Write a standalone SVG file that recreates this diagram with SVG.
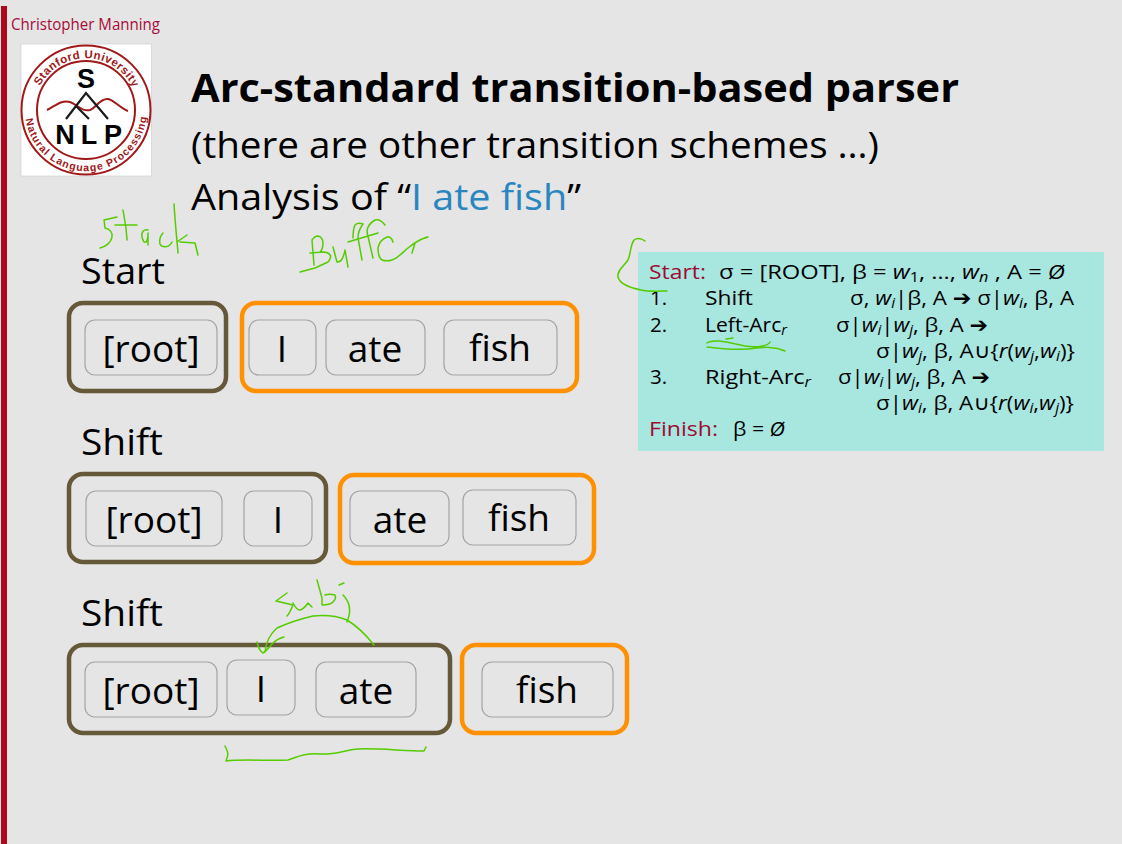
<svg xmlns="http://www.w3.org/2000/svg" width="1122" height="844" viewBox="0 0 1122 844">
<style>
text{font-family:"Open Sans","DejaVu Sans",sans-serif;fill:#000}
.h{font-size:37px}
.l{font-size:37px}
.w{font-size:37px;text-anchor:middle}
.stack{fill:none;stroke:#66593a;stroke-width:4.5}
.buf{fill:none;stroke:#ff9100;stroke-width:4.5}
.cell{fill:none;stroke:#a3a3a3;stroke-width:1.2}
.ink{fill:none;stroke:#55cc00;stroke-width:1.5;stroke-linecap:round;stroke-linejoin:round}
.r{font-size:20.5px}
.red{fill:#a00a30}
.i{font-style:italic}
.sub{font-size:14px}
.arr{font-family:"DejaVu Sans",sans-serif;font-weight:bold}
.logo{font-family:"Liberation Sans",sans-serif;font-weight:bold;fill:#a01818}
.nlp{font-family:"Liberation Sans",sans-serif;font-weight:bold;font-size:27px;text-anchor:middle}
</style>
<defs>
<path id="arcTop" d="M40 86A52 52 0 0 1 132 86"/>
<path id="arcBot" d="M25.500 118A61 61 0 0 0 146.500 118"/>
</defs>
<rect width="1122" height="844" fill="#e5e5e5"/>
<rect x="1" y="6" width="6" height="838" fill="#b0081c"/>
<text x="11" y="30" font-size="15.500" style="fill:#a80a38" textLength="149" lengthAdjust="spacingAndGlyphs">Christopher Manning</text>
<g id="logo">
<rect x="21" y="44" width="130.500" height="132" fill="#fff" stroke="#d0d0d0" stroke-width="0.700"/>
<circle cx="86" cy="110" r="64.500" fill="none" stroke="#a01818" stroke-width="2"/>
<circle cx="86" cy="110" r="49" fill="none" stroke="#a01818" stroke-width="2"/>
<text class="logo" style="font-size:11.500px;letter-spacing:.45px"><textPath href="#arcTop" startOffset="0">Stanford University</textPath></text>
<text class="logo" style="font-size:10.500px;letter-spacing:1.050px"><textPath href="#arcBot" startOffset="1">Natural Language Processing</textPath></text>
<path d="M47 110C58 104 62 100 70 102C78 105 82 112 90 110C96 108 100 98 108 99C114 100 120 108 128 111" fill="none" stroke="#a01818" stroke-width="2"/>
<path d="M66 119L86 93L108 119M76 106L89 119" fill="none" stroke="#1a1a1a" stroke-width="2.200"/>
<text class="nlp" x="86" y="88">S</text>
<text class="nlp" x="65" y="144">N</text>
<text class="nlp" x="89" y="144">L</text>
<text class="nlp" x="113" y="144">P</text>
</g>
<g id="title">
<text x="191" y="102" font-size="40" font-weight="700" textLength="768" lengthAdjust="spacingAndGlyphs">Arc-standard transition-based parser</text>
<text x="191" y="158" class="h" textLength="688" lengthAdjust="spacingAndGlyphs">(there are other transition schemes …)</text>
<text x="191" y="210" class="h" textLength="390" lengthAdjust="spacingAndGlyphs">Analysis of “<tspan style="fill:#2a86c0">I ate fish</tspan>”</text>
</g>
<g id="start-row">
<text x="81" y="284" class="l" textLength="84" lengthAdjust="spacingAndGlyphs">Start</text>
<rect class="stack" x="69" y="303" width="157" height="88" rx="14"/>
<rect class="cell" x="85" y="320" width="132" height="55" rx="10"/>
<text class="w" x="151" y="362">[root]</text>
<rect class="buf" x="242" y="303" width="335" height="88" rx="14"/>
<rect class="cell" x="249" y="320" width="67" height="55" rx="10"/>
<text class="w" x="282" y="362">I</text>
<rect class="cell" x="326" y="320" width="99" height="55" rx="10"/>
<text class="w" x="375" y="362">ate</text>
<rect class="cell" x="444" y="320" width="113" height="55" rx="10"/>
<text class="w" x="500" y="361">fish</text>
</g>
<g id="shift-row-1">
<text x="81" y="455" class="l" textLength="82" lengthAdjust="spacingAndGlyphs">Shift</text>
<rect class="stack" x="69" y="474" width="257" height="88" rx="14"/>
<rect class="cell" x="86" y="491" width="136" height="55" rx="10"/>
<text class="w" x="154" y="533">[root]</text>
<rect class="cell" x="244" y="491" width="68" height="55" rx="10"/>
<text class="w" x="278" y="533">I</text>
<rect class="buf" x="340" y="475" width="254" height="88" rx="14"/>
<rect class="cell" x="350" y="491" width="99" height="55" rx="10"/>
<text class="w" x="400" y="533">ate</text>
<rect class="cell" x="463" y="490" width="113" height="55" rx="10"/>
<text class="w" x="519" y="531">fish</text>
</g>
<g id="shift-row-2">
<text x="81" y="626" class="l" textLength="82" lengthAdjust="spacingAndGlyphs">Shift</text>
<rect class="stack" x="69" y="645" width="381" height="88" rx="14"/>
<rect class="cell" x="85" y="662" width="132" height="55" rx="10"/>
<text class="w" x="151" y="704">[root]</text>
<rect class="cell" x="227" y="660" width="68" height="55" rx="10"/>
<text class="w" x="261" y="702">I</text>
<rect class="cell" x="316" y="662" width="100" height="55" rx="10"/>
<text class="w" x="366" y="704">ate</text>
<rect class="buf" x="462" y="645" width="165" height="88" rx="14"/>
<rect class="cell" x="482" y="662" width="131" height="55" rx="10"/>
<text class="w" x="547" y="703">fish</text>
</g>
<g id="rules">
<rect x="638" y="252" width="466" height="199" fill="#a8e6e0"/>
<text x="649" y="279" class="r red" textLength="57" lengthAdjust="spacingAndGlyphs">Start:</text>
<text x="719" y="279" class="r" textLength="346" lengthAdjust="spacingAndGlyphs">σ = [ROOT], β = <tspan class="i">w</tspan><tspan class="sub" dy="3">1</tspan><tspan dy="-3">, …, </tspan><tspan class="i">w</tspan><tspan class="sub i" dy="3">n</tspan><tspan dy="-3"> , A = </tspan><tspan class="i">Ø</tspan></text>
<text x="650" y="305" class="r">1.</text>
<text x="705" y="305" class="r" textLength="48" lengthAdjust="spacingAndGlyphs">Shift</text>
<text x="850" y="305" class="r" textLength="224" lengthAdjust="spacingAndGlyphs">σ, <tspan class="i">w</tspan><tspan class="sub i" dy="3">i</tspan><tspan dy="-3">|β, A </tspan><tspan class="arr">➔</tspan> σ|<tspan class="i">w</tspan><tspan class="sub i" dy="3">i</tspan><tspan dy="-3">, β, A</tspan></text>
<text x="650" y="332" class="r">2.</text>
<text x="705" y="332" class="r" textLength="82" lengthAdjust="spacingAndGlyphs">Left-Arc<tspan class="sub i" dy="3">r</tspan></text>
<text x="836" y="332" class="r" textLength="152" lengthAdjust="spacingAndGlyphs">σ|<tspan class="i">w</tspan><tspan class="sub i" dy="3">i</tspan><tspan dy="-3">|</tspan><tspan class="i">w</tspan><tspan class="sub i" dy="3">j</tspan><tspan dy="-3">, β, A </tspan><tspan class="arr">➔</tspan></text>
<text x="876" y="358" class="r" textLength="199" lengthAdjust="spacingAndGlyphs">σ|<tspan class="i">w</tspan><tspan class="sub i" dy="3">j</tspan><tspan dy="-3">, β, A∪{</tspan><tspan class="i">r</tspan>(<tspan class="i">w</tspan><tspan class="sub i" dy="3">j</tspan><tspan dy="-3">,</tspan><tspan class="i">w</tspan><tspan class="sub i" dy="3">i</tspan><tspan dy="-3">)}</tspan></text>
<text x="650" y="384" class="r">3.</text>
<text x="705" y="384" class="r" textLength="106" lengthAdjust="spacingAndGlyphs">Right-Arc<tspan class="sub i" dy="3">r</tspan></text>
<text x="838" y="384" class="r" textLength="152" lengthAdjust="spacingAndGlyphs">σ|<tspan class="i">w</tspan><tspan class="sub i" dy="3">i</tspan><tspan dy="-3">|</tspan><tspan class="i">w</tspan><tspan class="sub i" dy="3">j</tspan><tspan dy="-3">, β, A </tspan><tspan class="arr">➔</tspan></text>
<text x="876" y="410" class="r" textLength="198" lengthAdjust="spacingAndGlyphs">σ|<tspan class="i">w</tspan><tspan class="sub i" dy="3">i</tspan><tspan dy="-3">, β, A∪{</tspan><tspan class="i">r</tspan>(<tspan class="i">w</tspan><tspan class="sub i" dy="3">i</tspan><tspan dy="-3">,</tspan><tspan class="i">w</tspan><tspan class="sub i" dy="3">j</tspan><tspan dy="-3">)}</tspan></text>
<text x="649" y="436" class="r red" textLength="69" lengthAdjust="spacingAndGlyphs">Finish:</text>
<text x="733" y="436" class="r" textLength="52" lengthAdjust="spacingAndGlyphs">β = <tspan class="i">Ø</tspan></text>
</g>
<g id="connectors">
<g class="ink">
<path d="M117 217L104 220L105 228C110 229 113 233 112 237C111 243 105 247 100 248"/>
<path d="M123 210L126 228L127 240M115 225L137 225"/>
<path d="M148 230C144 229 141 232 142 237C143 241 144 243 146 242C148 240 148 236 148 233L148 245"/>
<path d="M163 233C160 236 159 241 160 244C162 248 169 248 172 242"/>
<path d="M174 204C175 222 177 240 178 253M177 242L187 235M180 242L195 243C196 247 197 251 198 255"/>
<path d="M300 272L315 268L328 262C331 259 331 255 330 255C328 252 326 252 323 252L310 253M312 240L314 265M312 240C314 237 316 236 318 236C322 237 323 240 323 243C323 247 322 250 320 252"/>
<path d="M333 247L337 262C340 262 342 260 343 257C344 254 345 252 345 250L348 267"/>
<path d="M353 238C353 231 354 227 355 225C357 223 360 223 363 224C360 228 358 233 358 238L362 260"/>
<path d="M385 225C382 221 378 219 375 220C370 223 367 227 367 232L373 258M348 242L378 233"/>
<path d="M393 242C392 238 389 236 387 237C382 239 379 243 378 248C378 254 379 258 382 260C385 261 389 261 392 260C398 258 403 252 408 248C414 243 421 239 427 237M412 253L415 243C419 240 424 238 428 237"/>
<path d="M645 241C641 238 638 237 634 240C630 246 631 253 628 260C624 266 617 270 618 277C620 285 631 288 641 290C649 292 661 291 667 291"/>
<path d="M707 343C714 338 730 343 745 346C757 348 768 346 770 342M707 347C722 349 735 350 748 349C760 348 772 345 785 351M726 339L733 338"/>
<path d="M287 593L276 601L293 605C291 610 289 614 287 616"/>
<path d="M293 603C295 607 297 610 300 610C304 609 306 606 308 603L312 607"/>
<path d="M317 580L322 598L322 605C326 605 331 604 333 602C335 600 336 597 335 595C331 594 328 594 325 595"/>
<path d="M343 595C349 601 352 610 347 622M339 585L344 583"/>
<path d="M374 645C366 635 357 626 347 620C337 616 324 615 313 616C300 619 288 623 277 628C270 634 266 642 265 652M257 642C258 647 260 651 263 653C267 651 270 646 273 643C276 640 280 638 284 637"/>
<path d="M225 746C228 752 229 754 226 761C240 759 270 761 288 760C298 757 302 753 320 754C335 755 345 750 358 749C375 748 405 751 424 751L426 747"/>
</g>
</g>
</svg>
